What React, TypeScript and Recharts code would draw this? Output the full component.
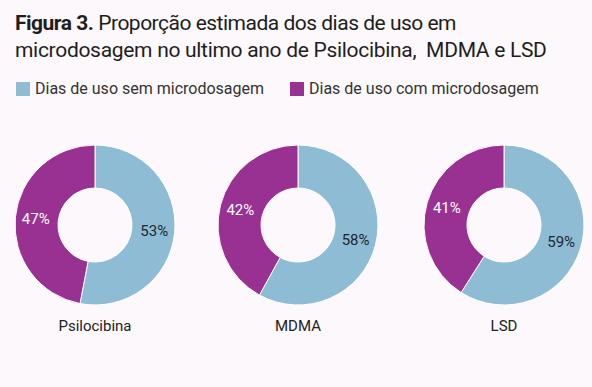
import React from "react";
import { PieChart, Pie, Cell } from "recharts";

const drugs = ["Psilocibina", "MDMA", "LSD"];
const semMicro = [53, 58, 59];
const comMicro = [47, 42, 41];
const seriesNames = ["Dias de uso sem microdosagem", "Dias de uso com microdosagem"];

const COLORS = ["#8fbcd5", "#983192"];
const LABEL_COLORS = ["#1c2630", "#ffffff"];
const FONT = "Roboto, 'Noto Sans', sans-serif";

const centersX = [95, 298, 504];
const CY = 225;
const INNER = 37;
const OUTER = 80;
const RAD = Math.PI / 180;

const renderLabel = (props: any) => {
  const { cx, cy, midAngle, innerRadius, outerRadius, value, index } = props;
  const r = (innerRadius + outerRadius) / 2 + 1;
  const x = cx + r * Math.cos(-midAngle * RAD);
  const y = cy + r * Math.sin(-midAngle * RAD);
  return (
    <text
      x={x}
      y={y}
      fill={LABEL_COLORS[index]}
      textAnchor="middle"
      dominantBaseline="central"
      fontSize={15}
      fontFamily={FONT}
    >
      {`${value}%`}
    </text>
  );
};

export default function App() {
  return (
    <div
      style={{
        position: "fixed",
        left: 0,
        top: 0,
        width: 592,
        height: 387,
        background: "#fcf8fb",
        fontFamily: FONT,
        color: "#1e1e1e",
        overflow: "hidden",
      }}
    >
      <div
        style={{
          position: "absolute",
          left: 15,
          top: 10,
          fontSize: 21,
          lineHeight: "27px",
          letterSpacing: -0.3,
        }}
      >
        <b style={{ letterSpacing: -0.5 }}>Figura 3.</b>{" "}
        <span style={{ letterSpacing: -0.5 }}>Proporção estimada dos dias de uso em</span>
        <br />
        microdosagem no ultimo ano de Psilocibina,&nbsp; MDMA e LSD
      </div>
      <div
        style={{
          position: "absolute",
          left: 16,
          top: 79,
          display: "flex",
          fontSize: 16,
          color: "#333",
        }}
      >
        {seriesNames.map((name, i) => (
          <div key={name} style={{ display: "flex", alignItems: "center", marginRight: 26 }}>
            <span
              style={{
                width: 14,
                height: 14,
                background: COLORS[i],
                marginRight: 5,
                display: "inline-block",
              }}
            />
            {name}
          </div>
        ))}
      </div>
      <div style={{ position: "absolute", left: 0, top: 0 }}>
        <PieChart width={592} height={387} margin={{ top: 0, right: 0, bottom: 0, left: 0 }}>
          {drugs.map((drug, d) => {
            const data = [
              { name: seriesNames[0], value: semMicro[d] },
              { name: seriesNames[1], value: comMicro[d] },
            ];
            return (
              <Pie
                key={drug}
                data={data}
                dataKey="value"
                cx={centersX[d]}
                cy={CY}
                innerRadius={INNER}
                outerRadius={OUTER}
                startAngle={90}
                endAngle={-270}
                stroke="#ffffff"
                strokeWidth={1}
                label={renderLabel}
                labelLine={false}
                isAnimationActive={false}
              >
                {data.map((entry, i) => (
                  <Cell key={entry.name} fill={COLORS[i]} />
                ))}
              </Pie>
            );
          })}
        </PieChart>
      </div>
      {drugs.map((drug, d) => (
        <div
          key={drug}
          style={{
            position: "absolute",
            left: centersX[d] - 80,
            width: 160,
            top: 317,
            textAlign: "center",
            fontSize: 15,
            color: "#222",
          }}
        >
          {drug}
        </div>
      ))}
    </div>
  );
}
